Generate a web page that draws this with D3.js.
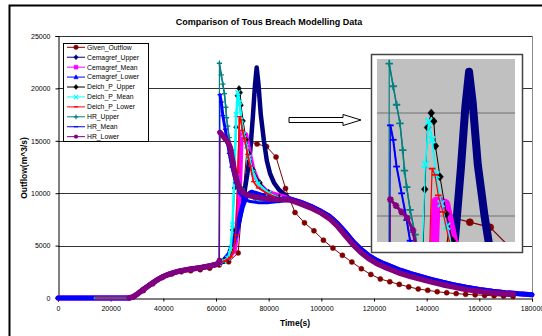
<!DOCTYPE html>
<html>
<head>
<meta charset="utf-8">
<script src="https://cdn.jsdelivr.net/npm/d3@7"></script>
<style>
body { margin: 0; background: #fff; }
text { font-family: "Liberation Sans", Arial, sans-serif; }
</style>
</head>
<body>
<div id="chart"></div>
<script>
// time (s), outflow (m^3/s)
const givenOutflow = [[28800,150],[32400,700],[36000,1350],[39600,1950],[43200,2300],[46800,2500],[50400,2600],
  [54000,2700],[57600,2850],[61200,3150],[64800,3450],[68400,4300],[72000,14950],[75600,14700],[79200,14450],
  [82800,13450],[86400,10450],[90000,8160],[93600,7170],[97200,6410],[100800,5520],[104400,4760],[108000,4070],
  [111600,3430],[115200,2790],[118800,2250],[122400,1820],[126000,1550],[129600,1300],[133200,1060],[136800,860],
  [140400,730],[144000,600],[147600,500],[151200,420],[154800,350],[158400,300],[162000,250],[165600,210],
  [169200,180],[172800,150]];

// shared rising limb (before the breach) and falling limbs
const riseLimb = [[27000,0],[28500,100],[30000,350],[32000,750],[34000,1100],[36000,1450],[38000,1780],[40000,2050],
  [42000,2250],[44000,2420],[46000,2560],[48000,2660],[50000,2740],[52000,2810],[54000,2890],[56000,2980],
  [58000,3080],[60000,3200]];
const fallLimb = [[88000,9350],[92000,9000],[96000,8600],[100000,8100],[103000,7600],[106000,6900],[109000,6000],
  [112000,5100],[115000,4350],[118000,3750],[121000,3300],[124000,2950],[127000,2650],[130000,2350],[134000,2050],
  [138000,1780],[142000,1520],[146000,1270],[150000,1060],[155000,800],[160000,640],[165000,500],[170000,400],
  [173000,350]];
const cemFallLimb = [[88000,9450],[92000,9150],[96000,8750],[100000,8250],[103000,7800],[106000,7150],[109000,6300],
  [112000,5400],[115000,4650],[118000,4050],[121000,3600],[124000,3250],[127000,2950],[130000,2650],[134000,2330],
  [138000,2040],[142000,1760],[146000,1500],[150000,1280],[155000,1020],[160000,820],[165000,650],[170000,510],
  [175000,400],[180000,320]];

// breach peaks
const cemUpperPeak = [[61000,3300],[63000,3600],[65000,4000],[67000,5200],[69000,7500],[70500,9600],[72000,12000],
  [73000,14000],[74000,17300],[74800,20300],[75450,22000],[76100,20500],[77000,17500],[78200,15000],[79300,13100],
  [80500,11900],[82000,11000],[84000,10300],[86000,9900]];
const cemMeanPeak = [[61000,3300],[63000,3600],[65000,3900],[67000,4600],[68000,6500],[69000,11000],[69600,15700],
  [70400,15700],[71300,15600],[72700,13800],[74000,12300],[75400,11400],[77000,10700],[79000,10200],[82000,9900],
  [85000,9700]];
const cemLowerPeak = [[61000,3300],[63000,3600],[65000,4200],[67000,5600],[68500,7200],[70000,8700],[71600,9800],
  [73500,10100],[76000,9900],[79000,9650],[83000,9500],[86000,9450]];
const deichUpperPeak = [[61000,3300],[63000,3550],[64500,3800],[65500,4500],[66300,6500],[67000,10500],[67600,16300],
  [68100,19300],[68750,20000],[69200,19600],[69500,18400],[70300,16900],[71400,15100],[72500,13800],[74200,12200],
  [76700,11000],[80000,10100],[84000,9600]];
const deichMeanPeak = [[61000,3300],[63000,3550],[64500,3800],[65500,4600],[66300,7000],[67000,12000],[67700,17500],
  [68300,19600],[68900,18700],[69600,17000],[70500,15600],[71500,14500],[72500,13400],[74000,12000],[76000,10900],
  [80000,10000],[84000,9500]];
const deichLowerPeak = [[61000,3300],[63000,3500],[64500,3700],[65500,3900],[66500,4400],[67500,6000],[68300,12000],
  [68900,17300],[69400,17000],[70000,16000],[70800,15200],[72000,13700],[73000,12600],[74200,11100],[76000,10500],
  [80000,9900],[84000,9500]];
const hrUpperPeak = [[61000,3350],[61200,3500],[61300,22400],[62000,21300],[62600,20400],[63200,19500],[63700,18200],
  [64000,17200],[64400,16400],[65000,15300],[65900,14100],[66600,13000],[68000,11600],[70000,10400],[72000,9800],
  [75000,9400],[80000,9250],[84000,9300]];
const hrMeanPeak = [[61000,3350],[61200,3500],[61500,19400],[62000,18700],[62600,17400],[63500,16100],[64400,14800],
  [65000,13800],[66000,12500],[67500,11000],[69000,10000],[71000,9400],[73000,9200],[76000,9100],[80000,9100],
  [84000,9200]];
const hrLowerPeak = [[61000,3350],[61300,3600],[61500,15800],[62500,15500],[63500,15200],[64500,14900],[65500,14300],
  [66500,12800],[67500,11500],[68500,10700],[70000,10100],[72000,9800],[75000,9650],[80000,9450],[84000,9400]];

const seriesNames = ["Given_Outflow","Cemagref_Upper","Cemagref_Mean","Cemagref_Lower","Deich_P_Upper",
  "Deich_P_Mean","Deich_P_Lower","HR_Upper","HR_Mean","HR_Lower"];
const seriesColors = ["#800000","#000080","#FF00FF","#0000FF","#000000","#00FFFF","#FF0000","#008080","#0000FF","#800080"];
const seriesMarkers = ["circle","diamond","square","triangle","diamond","times","dash","plus","dash","asterisk"];

const cemStart = [[0,0]], deichStart = [[14000,0]];
const series = [
  { pts: givenOutflow, marks: givenOutflow, w: 1, wi: 1.2 },
  { pts: [...cemStart, ...riseLimb, ...cemUpperPeak, ...cemFallLimb], marks: [], w: 4.5, wi: 8 },
  { pts: [...cemStart, ...riseLimb, ...cemMeanPeak, ...cemFallLimb], marks: [], w: 5, wi: 9 },
  { pts: [...cemStart, ...riseLimb, ...cemLowerPeak, ...cemFallLimb], marks: [], w: 5, wi: 6 },
  { pts: [...deichStart, ...riseLimb, ...deichUpperPeak, ...fallLimb], marks: deichUpperPeak, w: 1, wi: 1 },
  { pts: [...deichStart, ...riseLimb, ...deichMeanPeak, ...fallLimb], marks: deichMeanPeak, w: 2.5, wi: 1.5 },
  { pts: [...deichStart, ...riseLimb, ...deichLowerPeak, ...fallLimb], marks: deichLowerPeak, w: 1.5, wi: 1.2 },
  { pts: [...riseLimb, ...hrUpperPeak, ...fallLimb], marks: hrUpperPeak, w: 1.5, wi: 1.5 },
  { pts: [...riseLimb, ...hrMeanPeak, ...fallLimb], marks: hrMeanPeak, w: 3, wi: 2 },
  { pts: [...riseLimb, ...hrLowerPeak, ...fallLimb], marks: hrLowerPeak, w: 5.5, wi: 3 }
];

const yTicks = [0,5000,10000,15000,20000,25000];
const xTicks = [0,20000,40000,60000,80000,100000,120000,140000,160000,180000];

const svg = d3.select("#chart").append("svg").attr("width", 542).attr("height", 336);

// chart frame
svg.append("rect").attr("x", 9.5).attr("y", 5.5).attr("width", 620).attr("height", 400)
  .attr("fill", "#fff").attr("stroke", "#000").attr("stroke-width", 2);

svg.append("text").attr("x", 269).attr("y", 25).attr("text-anchor", "middle")
  .attr("font-size", 9).attr("font-weight", "bold").text("Comparison of Tous Breach Modelling Data");

const x = d3.scaleLinear().domain([0, 180000]).range([58, 532]);
const y = d3.scaleLinear().domain([0, 25000]).range([298, 36]);

// grid
svg.append("g").selectAll("line").data(yTicks.slice(1)).join("line")
  .attr("x1", 58).attr("x2", 532).attr("y1", d => Math.round(y(d)) + 0.5).attr("y2", d => Math.round(y(d)) + 0.5)
  .attr("stroke", "#333").attr("stroke-width", 1);
svg.append("line").attr("x1", 532.5).attr("x2", 532.5).attr("y1", 36).attr("y2", 298)
  .attr("stroke", "#888").attr("stroke-width", 1);

const xAxis = svg.append("g").attr("transform", "translate(0,298.5)")
  .call(d3.axisBottom(x).tickValues(xTicks).tickSize(3).tickPadding(5).tickFormat(d3.format("d")));
const yAxis = svg.append("g").attr("transform", "translate(58.5,0)")
  .call(d3.axisLeft(y).tickValues(yTicks).tickSize(3).tickPadding(5).tickFormat(d3.format("d")));
[xAxis, yAxis].forEach(a => {
  a.select(".domain").attr("stroke", "#000");
  a.selectAll("text").attr("font-size", 7).attr("font-family", "Liberation Sans, Arial, sans-serif").attr("fill", "#000");
});
yAxis.selectAll(".tick line").attr("stroke", "#000");

svg.append("text").attr("x", 295).attr("y", 326).attr("text-anchor", "middle")
  .attr("font-size", 8.5).attr("font-weight", "bold").text("Time(s)");
svg.append("text").attr("transform", "translate(27,168) rotate(-90)").attr("text-anchor", "middle")
  .attr("font-size", 8.5).attr("font-weight", "bold").text("Outflow(m^3/s)");

function markerPath(type, s) {
  const r = 2.4 * s;
  switch (type) {
    case "circle": return d3.symbol(d3.symbolCircle, 20 * s * s)();
    case "diamond": return `M0,${-r * 1.2}L${r},0L0,${r * 1.2}L${-r},0Z`;
    case "square": return `M${-r * 0.9},${-r * 0.9}h${r * 1.8}v${r * 1.8}h${-r * 1.8}Z`;
    case "triangle": return `M0,${-r * 1.1}L${r},${r * 0.8}L${-r},${r * 0.8}Z`;
    case "times": return `M${-r},${-r}L${r},${r}M${-r},${r}L${r},${-r}`;
    case "dash": return `M${-r},0H${r}`;
    case "plus": return `M${-r * 1.1},0H${r * 1.1}M0,${-r * 1.1}V${r * 1.1}`;
    case "asterisk": return `M${-r},0H${r}M0,${-r}V${r}M${-r * 0.7},${-r * 0.7}L${r * 0.7},${r * 0.7}M${-r * 0.7},${r * 0.7}L${r * 0.7},${-r * 0.7}`;
  }
}
const strokeMarker = t => ["times", "dash", "plus", "asterisk"].includes(t);

function drawMarkers(g, pts, i, xs, ys, s) {
  const type = seriesMarkers[i], c = seriesColors[i];
  g.selectAll(null).data(pts).join("path")
    .attr("transform", d => `translate(${xs(d[0])},${ys(d[1])})`)
    .attr("d", markerPath(type, s))
    .attr("fill", strokeMarker(type) ? "none" : c)
    .attr("stroke", c).attr("stroke-width", strokeMarker(type) ? 1.3 * s : 0.5);
}

// dense marker runs look like a thick band; sudden jumps between samples stay thin
function drawSeries(g, xs, ys, inset) {
  const maxJump = inset ? 100 : 60;
  series.forEach((sr, i) => {
    const line = d3.line().x(d => xs(d[0])).y(d => ys(d[1]));
    const w = inset ? sr.wi : sr.w;
    g.append("path").attr("d", line(sr.pts)).attr("fill", "none")
      .attr("stroke", seriesColors[i]).attr("stroke-width", Math.min(w, 1.2))
      .attr("stroke-linejoin", "round");
    if (w > 1.2) {
      const runs = [];
      let run = [sr.pts[0]];
      for (let k = 1; k < sr.pts.length; k++) {
        const a = sr.pts[k - 1], b = sr.pts[k];
        if (Math.abs(ys(b[1]) - ys(a[1])) > maxJump) { runs.push(run); run = [b]; } else run.push(b);
      }
      runs.push(run);
      g.selectAll(null).data(runs.filter(r => r.length > 1)).join("path")
        .attr("d", line).attr("fill", "none")
        .attr("stroke", seriesColors[i]).attr("stroke-width", w)
        .attr("stroke-linejoin", "round").attr("stroke-linecap", "round");
    }
    drawMarkers(g, sr.marks, i, xs, ys, inset ? 1.4 : 1);
  });
}

drawSeries(svg.append("g"), x, y, false);

// legend
const lg = svg.append("g").attr("transform", "translate(63,43)");
lg.append("rect").attr("x", 0.5).attr("y", 0.5).attr("width", 85).attr("height", 98)
  .attr("fill", "#fff").attr("stroke", "#000");
seriesNames.forEach((n, i) => {
  const row = lg.append("g").attr("transform", `translate(0,${4.3 + i * 9.93})`);
  row.append("line").attr("x1", 4).attr("x2", 22).attr("stroke", seriesColors[i]).attr("stroke-width", 1);
  drawMarkers(row, [[0, 0]], i, v => 13, v => 0, 0.9);
  row.append("text").attr("x", 24).attr("y", 2.4).attr("font-size", 6.8).text(n);
});

// zoomed inset
svg.append("rect").attr("x", 371.5).attr("y", 54.5).attr("width", 151).attr("height", 198)
  .attr("fill", "#fff").attr("stroke", "#444").attr("stroke-width", 1.5);
svg.append("rect").attr("x", 377).attr("y", 59).attr("width", 138).attr("height", 183).attr("fill", "#C0C0C0");
svg.append("clipPath").attr("id", "insetClip")
  .append("rect").attr("x", 377).attr("y", 59).attr("width", 138).attr("height", 183);
const xi = d3.scaleLinear().domain([59130, 83600]).range([377, 515]);
const yi = d3.scaleLinear().domain([15000, 20000]).range([216, 113]);
const ig = svg.append("g").attr("clip-path", "url(#insetClip)");
ig.selectAll("line").data([15000, 20000]).join("line")
  .attr("x1", 377).attr("x2", 515).attr("y1", d => yi(d)).attr("y2", d => yi(d))
  .attr("stroke", "#707070").attr("stroke-width", 1);
drawSeries(ig, xi, yi, true);

// hollow arrow pointing to the inset
svg.append("path")
  .attr("d", d3.line()([[289, 117.5], [343, 117.5], [343, 114.5], [361, 120], [343, 125.5], [343, 122.5], [289, 122.5]]) + "Z")
  .attr("fill", "#fff").attr("stroke", "#000").attr("stroke-width", 1);
</script>
</body>
</html>
